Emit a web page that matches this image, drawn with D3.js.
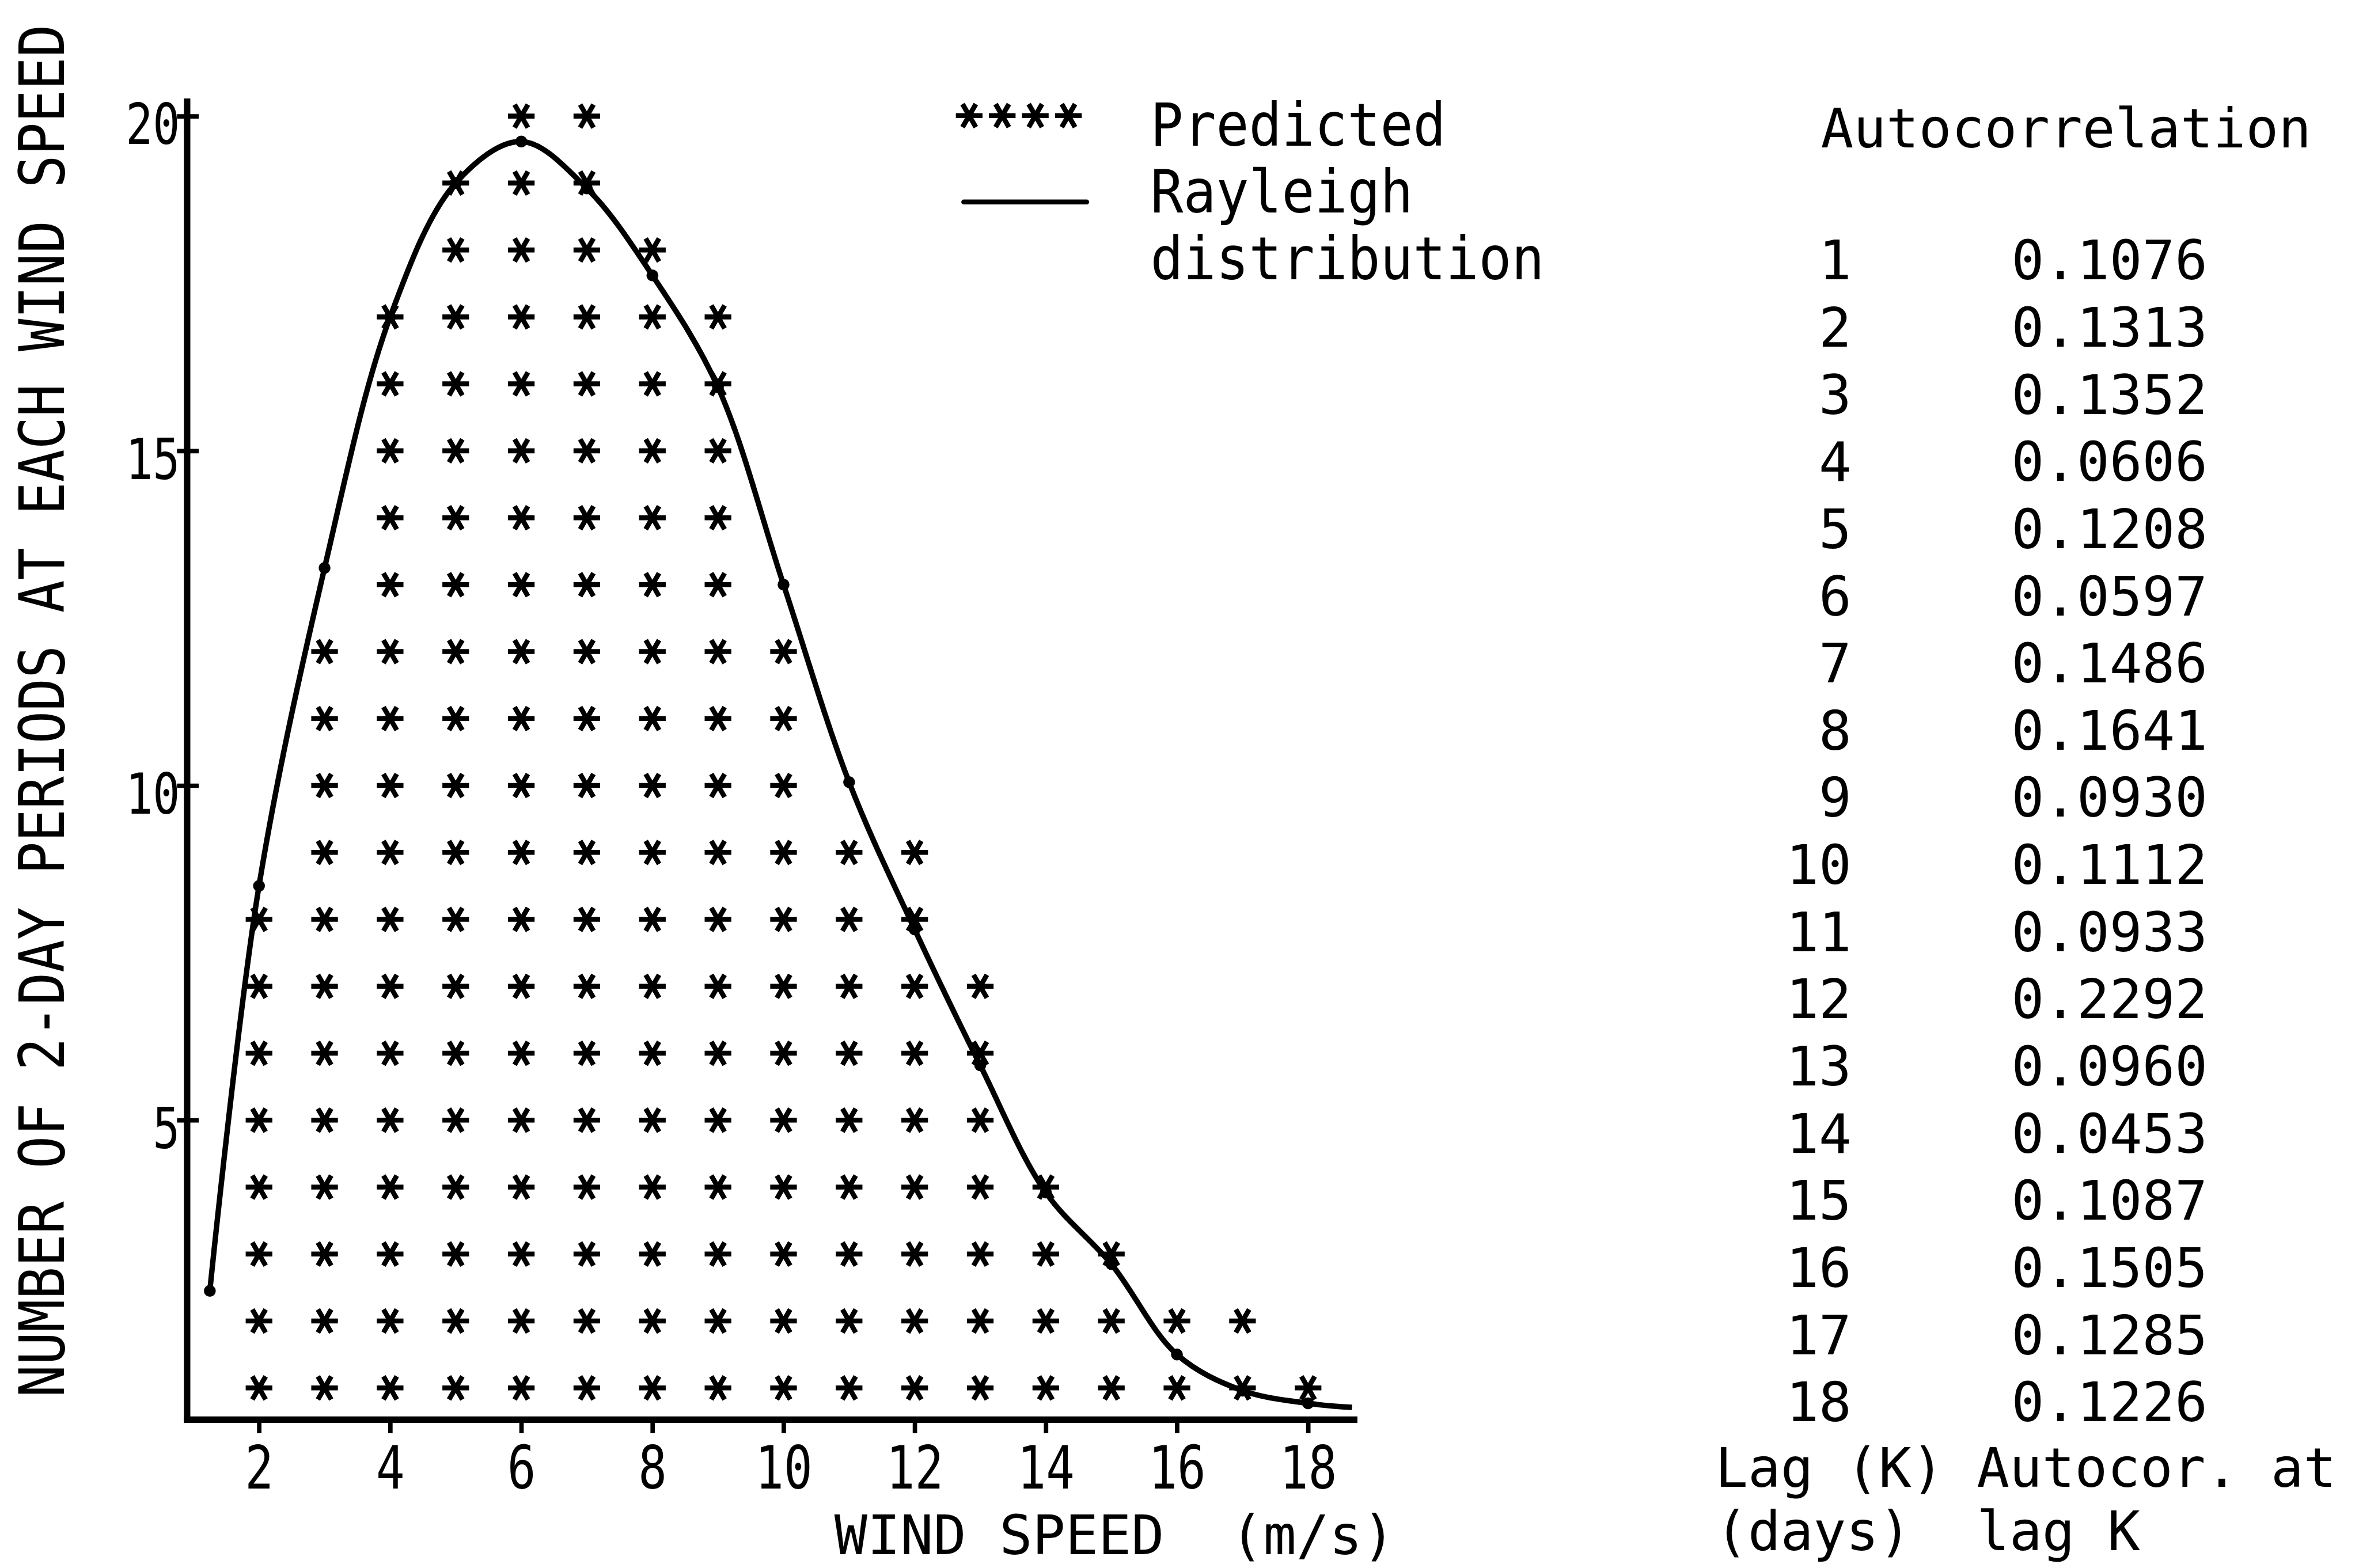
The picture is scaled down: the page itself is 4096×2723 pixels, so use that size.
<!DOCTYPE html>
<html>
<head>
<meta charset="utf-8">
<script src="https://cdn.jsdelivr.net/npm/d3@7"></script>
<style>
  body { margin: 0; background: #fff; }
  svg { display: block; background: #fff; }
  text { font-family: "DejaVu Sans Mono", "Liberation Mono", monospace; fill: #000; white-space: pre; }
</style>
</head>
<body>
<svg id="chart" width="4096" height="2723" viewBox="0 0 4778 3176"></svg>
<script>
const windSpeeds = [2, 3, 4, 5, 6, 7, 8, 9, 10, 11, 12, 13, 14, 15, 16, 17, 18];
const predictedCounts = [8, 12, 17, 19, 20, 20, 18, 17, 12, 9, 9, 7, 4, 3, 2, 2, 1];

const rayleighSpeeds = [1.25, 2, 3, 4, 5, 6, 7, 8, 9, 10, 11, 12, 13, 14, 15, 16, 17, 18, 18.67];
const rayleighCounts = [2.45, 8.5, 13.25, 17.0, 19.0, 19.62, 18.92, 17.62, 15.95, 13.0, 10.05, 7.85, 5.82, 3.92, 2.85, 1.5, 0.96, 0.77, 0.71];

const xTickValues = [2, 4, 6, 8, 10, 12, 14, 16, 18];
const yTickValues = [5, 10, 15, 20];

const lagDays = [1, 2, 3, 4, 5, 6, 7, 8, 9, 10, 11, 12, 13, 14, 15, 16, 17, 18];
const autocorrelations = [0.1076, 0.1313, 0.1352, 0.0606, 0.1208, 0.0597, 0.1486, 0.1641, 0.0930,
                          0.1112, 0.0933, 0.2292, 0.0960, 0.0453, 0.1087, 0.1505, 0.1285, 0.1226];

const legendLabels = ["Predicted", "Rayleigh", "distribution"];
const xTitle = "WIND SPEED  (m/s)";
const yTitle = "NUMBER OF 2-DAY PERIODS AT EACH WIND SPEED";
const tableTitle = "Autocorrelation";
const tableFooter = ["Lag (K) Autocor. at", "(days)  lag K"];

const svg = d3.select("#chart");

// drawing is done in the reference's pixel space, the viewBox scales it down
const x = d3.scaleLinear().domain([0, 18]).range([259, 259 + 18 * 132.8]);
const y = d3.scaleLinear().domain([0, 20]).range([2947, 2947 - 20 * 135.6]);

const xFrame = d3.scaleLinear().domain([0.9, 18.7]).range([x(0.9), x(18.7)]);
const yFrame = d3.scaleLinear().domain([0.53, 20.22]).range([y(0.53), y(20.22)]);

var star = d3.symbol().type(d3.symbolAsterisk).size(2060);

// predicted counts, one asterisk per period
var starData = [];
windSpeeds.forEach(function(s, i) {
    d3.range(1, predictedCounts[i] + 1).forEach(function(c) {
        starData.push({speed: s, count: c});
    });
});

svg.append("g").selectAll("path")
    .data(starData)
    .enter()
    .append("path")
    .attr("d", star)
    .attr("transform", function(d) {
        return "translate(" + x(d.speed) + "," + y(d.count) + ") rotate(90)";
    })
    .attr("fill", "none")
    .attr("stroke", "#000")
    .attr("stroke-width", 10);

// rayleigh curve
var curveData = rayleighSpeeds.map(function(s, i) {
    return {speed: s, count: rayleighCounts[i]};
});
var line = d3.line()
    .x(function(d) { return x(d.speed); })
    .y(function(d) { return y(d.count); })
    .curve(d3.curveCatmullRom.alpha(0.5));

svg.append("path")
    .datum(curveData)
    .attr("d", line)
    .attr("fill", "none")
    .attr("stroke", "#000")
    .attr("stroke-width", 11)
    .attr("stroke-linejoin", "round");

svg.append("g").selectAll("circle")
    .data(curveData.slice(0, curveData.length - 1))
    .enter()
    .append("circle")
    .attr("cx", function(d) { return x(d.speed); })
    .attr("cy", function(d) { return y(d.count); })
    .attr("r", 12)
    .attr("fill", "#000");

// axes
var xAxis = svg.append("g")
    .attr("transform", "translate(0," + y(0.53) + ")")
    .call(d3.axisBottom(xFrame).tickValues(xTickValues).tickSize(28).tickSizeOuter(0));
xAxis.select(".domain").attr("stroke-width", 13).attr("stroke-linecap", "square");
xAxis.selectAll(".tick line").attr("stroke-width", 9);
xAxis.selectAll(".tick text")
    .attr("y", 140)
    .attr("dy", null)
    .style("font-size", "120px")
    .attr("textLength", function(d) { return String(d).length * 58; })
    .attr("lengthAdjust", "spacingAndGlyphs");

var yAxis = svg.append("g")
    .attr("transform", "translate(" + x(0.9) + ",0)")
    .call(d3.axisLeft(yFrame).tickValues(yTickValues).tickSize(0).tickPadding(14).tickSizeOuter(0));
yAxis.select(".domain").attr("stroke-width", 13).attr("stroke-linecap", "square");
yAxis.selectAll(".tick line").attr("x1", -20).attr("x2", 24).attr("stroke-width", 9);
yAxis.selectAll(".tick text")
    .attr("dy", "0.49em")
    .style("font-size", "115px")
    .attr("textLength", function(d) { return String(d).length * 55; })
    .attr("lengthAdjust", "spacingAndGlyphs");

// axis titles
svg.append("text")
    .attr("x", 1690)
    .attr("y", 3148)
    .style("font-size", "111px")
    .attr("textLength", 1136)
    .attr("lengthAdjust", "spacingAndGlyphs")
    .text(xTitle);

// natural width of the mono font fits the length, scale only the letter height
svg.append("text")
    .attr("transform", "translate(86,1440) rotate(-90) scale(1,1.15)")
    .attr("text-anchor", "middle")
    .attr("dominant-baseline", "central")
    .style("font-size", "110px")
    .text(yTitle);

// legend
svg.append("g").selectAll("path")
    .data(d3.range(4))
    .enter()
    .append("path")
    .attr("d", star)
    .attr("transform", function(d) {
        return "translate(" + (1963 + d * 67) + ",234) rotate(90)";
    })
    .attr("fill", "none")
    .attr("stroke", "#000")
    .attr("stroke-width", 10);

svg.append("line")
    .attr("x1", 1952).attr("y1", 409)
    .attr("x2", 2201).attr("y2", 409)
    .attr("stroke", "#000")
    .attr("stroke-width", 10)
    .attr("stroke-linecap", "round");

svg.append("g").selectAll("text")
    .data(legendLabels)
    .enter()
    .append("text")
    .attr("x", 2330)
    .attr("y", function(d, i) { return 295 + i * 135; })
    .style("font-size", "120px")
    .attr("textLength", function(d) { return d.length * 66.5; })
    .attr("lengthAdjust", "spacingAndGlyphs")
    .text(function(d) { return d; });

// autocorrelation table
var fmt = d3.format(".4f");
svg.append("text")
    .attr("x", 3688)
    .attr("y", 298)
    .style("font-size", "110px")
    .text(tableTitle);

svg.append("g").selectAll("text")
    .data(lagDays)
    .enter()
    .append("text")
    .attr("x", 3750)
    .attr("y", function(d, i) { return 566 + i * 136.06; })
    .attr("text-anchor", "end")
    .style("font-size", "110px")
    .text(function(d) { return d; });

svg.append("g").selectAll("text")
    .data(autocorrelations)
    .enter()
    .append("text")
    .attr("x", 4074)
    .attr("y", function(d, i) { return 566 + i * 136.06; })
    .style("font-size", "110px")
    .text(function(d) { return fmt(d); });

svg.append("g").selectAll("text")
    .data(tableFooter)
    .enter()
    .append("text")
    .attr("x", 3474)
    .attr("y", function(d, i) { return 3012 + i * 128; })
    .style("font-size", "110px")
    .text(function(d) { return d; });
</script>
</body>
</html>
